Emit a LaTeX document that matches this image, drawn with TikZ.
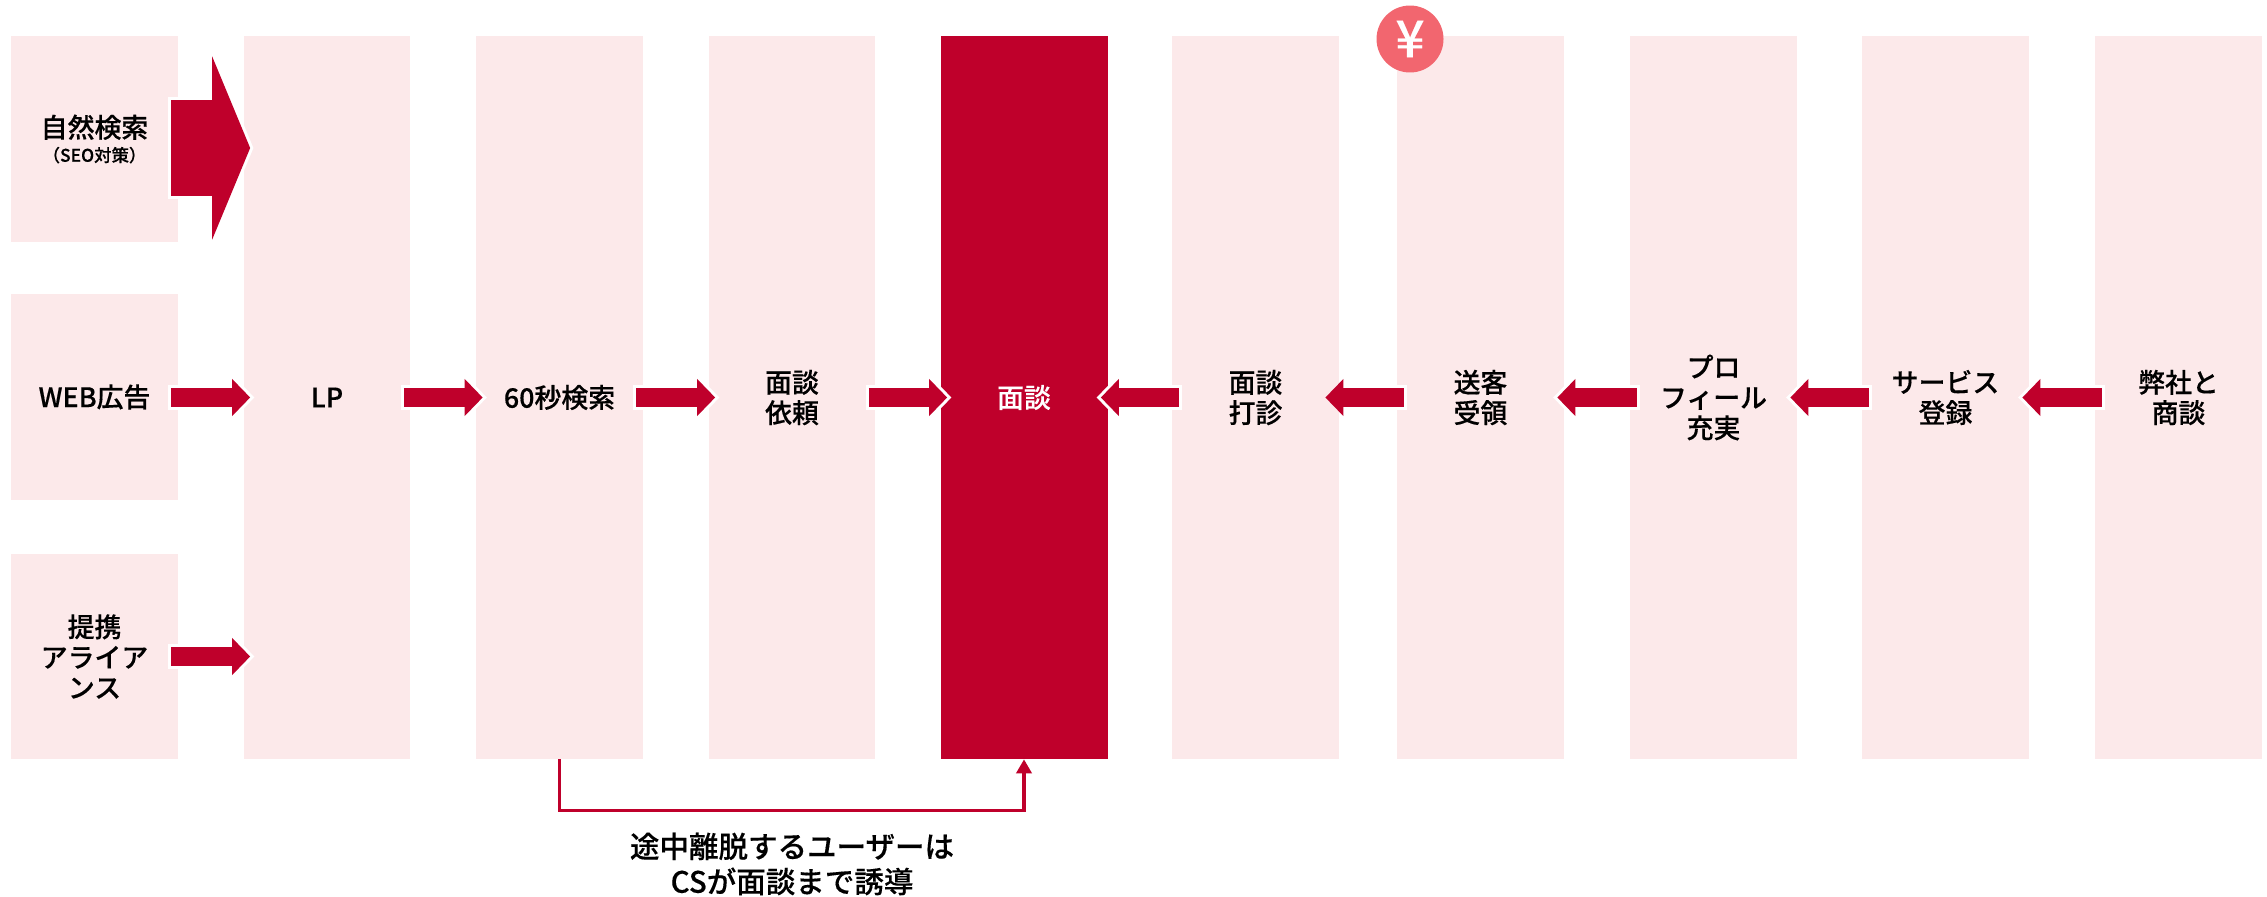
\documentclass[tikz,border=0pt]{standalone}
\usepackage{fontspec}
\setmainfont{Noto Sans CJK JP}[BoldFont={Noto Sans CJK JP Medium},BoldFeatures={FakeBold=0.3}]
\usetikzlibrary{arrows.meta}
\definecolor{palerose}{HTML}{FCE9EA}
\definecolor{crimson}{HTML}{BF002B}
\definecolor{coral}{HTML}{F2666F}
\tikzset{
	stage/.style={fill=palerose, inner sep=0pt, align=center, minimum width=3.34cm, minimum height=14.46cm, font=\fontsize{15.3}{17.3}\selectfont\bfseries},
	source/.style={stage, minimum height=4.12cm},
	stagehot/.style={stage, fill=crimson, text=white},
	flowhalo/.style={draw=white, line width=0.5cm, -{Triangle[length=0.5cm,width=1.0cm]}, shorten <=-0.2cm, shorten >=-0.225cm},
	flow/.style={draw=crimson, line width=0.38cm, -{Triangle[length=0.36cm,width=0.72cm]}, shorten <=-0.14cm, shorten >=-0.14cm},
	bighalo/.style={draw=white, line width=2.04cm, -{Triangle[length=0.886cm,width=4.24cm]}, shorten <=-0.2cm, shorten >=-0.205cm},
	bigflow/.style={draw=crimson, line width=1.92cm, -{Triangle[length=0.76cm,width=3.64cm]}, shorten <=-0.14cm, shorten >=-0.14cm},
	backline/.style={draw=crimson, line width=0.07cm, -{Triangle[length=0.28cm,width=0.3cm]}},
	yenmark/.style={circle, fill=coral, text=white, inner sep=0pt, minimum size=1.34cm, font=\fontsize{29}{29}\selectfont\bfseries},
	notelabel/.style={inner sep=0pt, align=center, font=\fontsize{16.8}{20}\selectfont\bfseries},
}
\def\flowarrow[#1](#2)(#3){\draw[flowhalo,#1] (#2) -- (#3); \draw[flow,#1] (#2) -- (#3);}

\begin{document}
\begin{tikzpicture}[x=0.02cm,y=-0.02cm]
	\useasboundingbox (0,0) rectangle (2267,896);
	%%%%% SOURCES %%%%%
	\node[source] (organic) at (94.5,139) {自然検索\\[-3.5pt]{\fontsize{9.9}{11}\selectfont（SEO対策）}};
	\node[source] (webad) at (94.5,397) {WEB広告};
	\node[source] (partner) at (94.5,656.5) {提携\\アライア\\ンス};

	%%%%% STAGES %%%%%
	\node[stage] (lp) at (327,397.5) {LP};
	\node[stage] (search) at (559.5,397.5) {60秒検索};
	\node[stage] (request) at (792,397.5) {面談\\依頼};
	\node[stagehot] (interview) at (1024,397.5) {面談};
	\node[stage] (sounding) at (1255.5,397.5) {面談\\打診};
	\node[stage] (receipt) at (1480.5,397.5) {送客\\受領};
	\node[stage] (profile) at (1713.5,397.5) {プロ\\フィール\\充実};
	\node[stage] (signup) at (1945.5,397.5) {サービス\\登録};
	\node[stage] (sales) at (2178.5,397.5) {弊社と\\商談};

	\node[yenmark] (yen) at (1410,39) {¥};

	%%%%% ARROWS %%%%%
	\coordinate (organicout) at ([yshift=-0.18cm]organic.east);
	\draw[bighalo] (organicout) -- (lp.west |- organicout);
	\draw[bigflow] (organicout) -- (lp.west |- organicout);
	\flowarrow[](webad.east |- lp.west)(lp.west)
	\flowarrow[](partner.east)(lp.west |- partner.east)
	\flowarrow[](lp.east)(search.west)
	\flowarrow[](search.east)(request.west)
	\flowarrow[](request.east)(interview.west)
	\flowarrow[](sounding.west)(interview.east)
	\flowarrow[shorten >=-0.28cm](receipt.west)(sounding.east)
	\flowarrow[](profile.west)(receipt.east)
	\flowarrow[](signup.west)(profile.east)
	\flowarrow[](sales.west)(signup.east)

	%%%%% RETURN %%%%%
	\coordinate (turn) at ([yshift=-1.02cm]search.south);
	\draw[backline] (search.south) -- (turn) -| (interview.south);
	\node[notelabel] (note) at (792,864) {途中離脱するユーザーは\\CSが面談まで誘導};
\end{tikzpicture}
\end{document}
